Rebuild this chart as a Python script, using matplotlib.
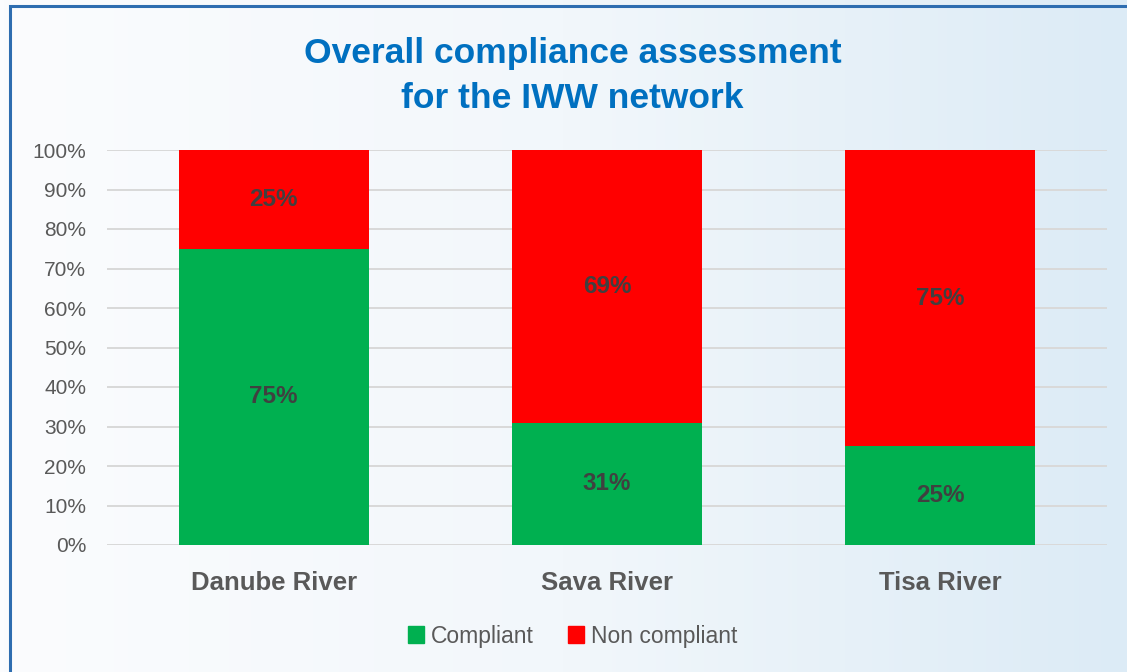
import numpy as np
import matplotlib.pyplot as plt
from matplotlib.patches import Rectangle, Patch
from matplotlib.colors import LinearSegmentedColormap

rivers = ["Danube River", "Sava River", "Tisa River"]
compliant = [75, 31, 25]
non_compliant = [25, 69, 75]

plt.rcParams['font.family'] = ['Liberation Sans', 'DejaVu Sans']

fig = plt.figure(figsize=(11.27, 6.72), dpi=100)

# gradient background
bg = fig.add_axes([0, 0, 1, 1], zorder=-10)
grad = np.linspace(0, 1, 256).reshape(1, -1)
cmap = LinearSegmentedColormap.from_list("bg", ["#FBFCFE", "#F2F7FB", "#DCEBF6"])
bg.imshow(grad, aspect='auto', cmap=cmap, extent=[0, 1, 0, 1])
bg.set_xlim(0, 1)
bg.set_ylim(0, 1)
bg.axis('off')
bg.add_patch(Rectangle((10 / 1127, -0.1), 1.2, 1 - 6 / 672 + 0.1, fill=False,
                       edgecolor="#2E6DB0", linewidth=2.2))

ax = fig.add_axes([107 / 1127, 1 - 545 / 672, 1000 / 1127, 395 / 672])
ax.patch.set_alpha(0)
x = np.arange(len(rivers))
w = 0.57
ax.bar(x, compliant, w, color="#00B050", label="Compliant", zorder=3)
ax.bar(x, non_compliant, w, bottom=compliant, color="#FF0000", label="Non compliant", zorder=3)

for i in range(len(rivers)):
    ax.text(x[i], compliant[i] / 2, f"{compliant[i]}%", ha='center', va='center',
            fontsize=17.5, fontweight='bold', color="#404040", zorder=4)
    ax.text(x[i], compliant[i] + non_compliant[i] / 2, f"{non_compliant[i]}%", ha='center',
            va='center', fontsize=17.5, fontweight='bold', color="#404040", zorder=4)

ax.set_xlim(-0.5, 2.5)
ax.set_ylim(0, 100)
ax.set_yticks(range(0, 101, 10))
ax.set_yticklabels([f"{v}%" for v in range(0, 101, 10)], fontsize=15, color="#595959")
ax.set_xticks(x)
ax.set_xticklabels(rivers, fontsize=18.5, fontweight='bold', color="#595959")
ax.tick_params(axis='both', length=0)
ax.tick_params(axis='y', pad=15)
ax.tick_params(axis='x', pad=19)
ax.grid(axis='y', color="#D9D9D9", linewidth=1.4, zorder=0)
for s in ax.spines.values():
    s.set_visible(False)

fig.text(0.508, 1 - 53 / 672, "Overall compliance assessment", ha='center', va='center',
         fontsize=25.5, fontweight='bold', color="#0070C0")
fig.text(0.508, 1 - 98 / 672, "for the IWW network", ha='center', va='center',
         fontsize=25.5, fontweight='bold', color="#0070C0")

handles = [Patch(color="#00B050", label="Compliant"), Patch(color="#FF0000", label="Non compliant")]
fig.legend(handles=handles, loc='center', bbox_to_anchor=(0.508, 1 - 636 / 672), ncol=2,
           frameon=False, fontsize=16.5, handlelength=0.7, handleheight=0.7,
           handletextpad=0.3, columnspacing=1.5, labelcolor="#595959")

fig.savefig("out.png", dpi=100)
